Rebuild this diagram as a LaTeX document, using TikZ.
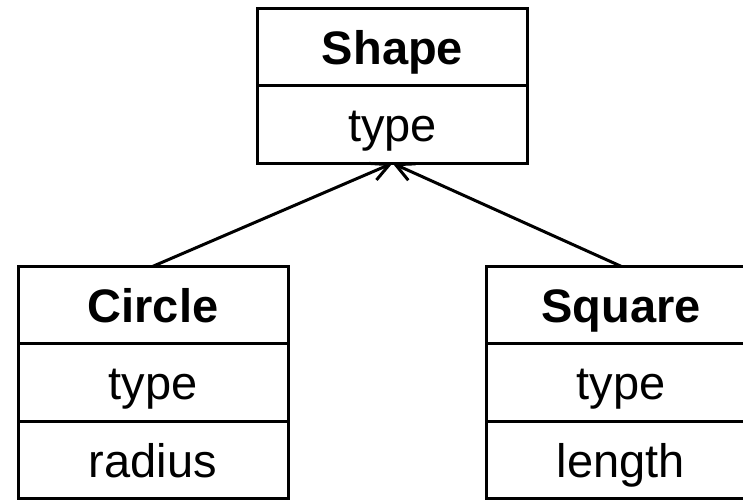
\documentclass[tikz,border=0pt]{standalone}
\usepackage{fontspec}
\setmainfont{Liberation Sans}
\usetikzlibrary{positioning}
\usetikzlibrary{arrows.meta}

\tikzset{
  umlcell/.style={draw, line width=1.5pt, outer sep=0pt, inner sep=0pt,
    minimum width=135pt, minimum height=38.75pt,
    text height=17pt, text depth=0pt,
    font=\fontsize{23.5}{28}\selectfont},
  umlname/.style={umlcell, font=\fontsize{23.5}{28}\selectfont\bfseries},
  inherit/.style={line width=1.5pt, -{Straight Barb[length=9pt,width=9pt]}}
}

\begin{document}
\begin{tikzpicture}[x=0.5pt,y=-0.5pt]
\useasboundingbox (0,0) rectangle (743,500);

% base class
\node[umlname] (shape) at (392.5,47) {Shape};
\node[umlcell,below=0pt of shape] (shapetype) {type};

% derived classes
\node[umlname] (circle) at (153,305) {Circle};
\node[umlcell,below=0pt of circle] (circletype) {type};
\node[umlcell,below=0pt of circletype] (circleradius) {radius};

\node[umlname] (square) at (621,305) {Square};
\node[umlcell,below=0pt of square] (squaretype) {type};
\node[umlcell,below=0pt of squaretype] (squarelength) {length};

\draw[inherit] (circle.north) -- (shapetype.south);
\draw[inherit] (square.north) -- (shapetype.south);

\end{tikzpicture}
\end{document}
